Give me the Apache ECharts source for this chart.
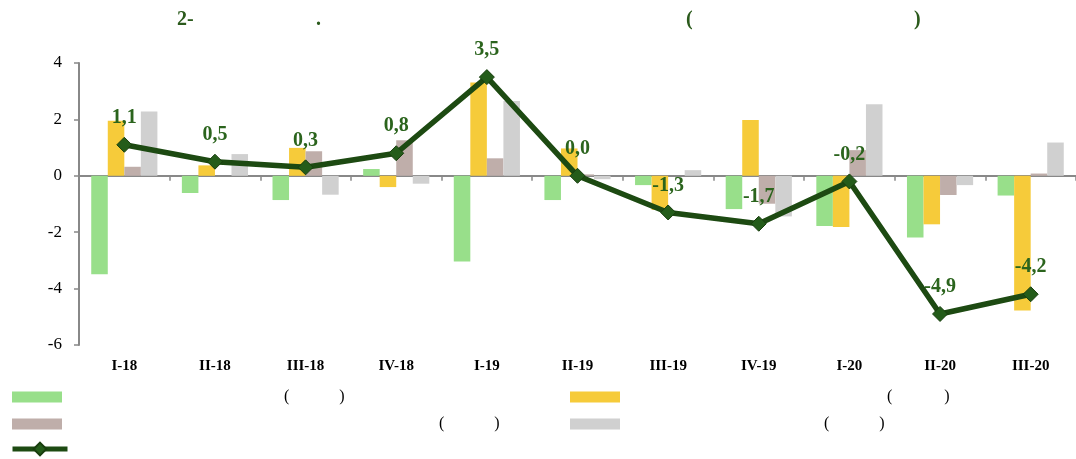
<!DOCTYPE html>
<html><head><meta charset="utf-8">
<script src="https://cdn.jsdelivr.net/npm/echarts@6/dist/echarts.min.js"></script>
<style>html,body{margin:0;padding:0;background:#fff}#c{width:1076px;height:459px}</style>
</head><body><div id="c"></div>
<script>
const categories = ['I-18','II-18','III-18','IV-18','I-19','II-19','III-19','IV-19','I-20','II-20','III-20'];
const seriesGreen  = [-3.49,-0.61,-0.86, 0.24,-3.04,-0.86,-0.33,-1.18,-1.78,-2.19,-0.70];
const seriesYellow = [ 1.95, 0.37, 0.99,-0.40, 3.31, 0.97,-1.21, 1.98,-1.82,-1.72,-4.78];
const seriesBrown  = [ 0.32, 0.00, 0.87, 1.26, 0.62, 0.05, 0.00,-0.99, 0.91,-0.68, 0.08];
const seriesGrey   = [ 2.28, 0.77,-0.67,-0.28, 2.65,-0.12, 0.20,-1.44, 2.54,-0.33, 1.18];
const lineValues   = [ 1.1, 0.5, 0.3, 0.8, 3.5, 0.0,-1.3,-1.7,-0.2,-4.9,-4.2];
const yTicks = [-6,-4,-2,0,2,4];
const names = ['s1','s2','s3','s4','s5'];

const serif = '"Liberation Serif", "DejaVu Serif", serif';
const titleColor = '#2b5a1c';
const colors = ['#98DF8A','#F6CB3A','#BFAEAA','#D0D0D0'];

function legendFmt() {
  return function(){ return '{sp| }{p|(}{sp2| }{p|)}'; };
}
function legendRich(w1, w2) {
  return { sp:{width:w1}, sp2:{width:w2}, p:{fontFamily:serif, fontSize:16, color:'#000'} };
}
const tStyle = {fontFamily:serif,fontWeight:'bold',fontSize:20,color:titleColor};

const chart = echarts.init(document.getElementById('c'));
chart.setOption({
  animation:false,
  textStyle:{fontFamily:serif},
  title:[
    {text:'2-', left:177, top:10, padding:0, textStyle:tStyle},
    {text:'.', left:316, top:10, padding:0, textStyle:tStyle},
    {text:'(', left:686, top:10, padding:0, textStyle:tStyle},
    {text:')', left:914, top:10, padding:0, textStyle:tStyle}
  ],
  legend:[
    {data:[names[0]], left:12, top:389, padding:0, icon:'rect', itemWidth:50, itemHeight:11, itemGap:5, formatter:legendFmt(), textStyle:{rich:legendRich(217,50)}},
    {data:[names[1]], left:570, top:389, padding:0, icon:'rect', itemWidth:50, itemHeight:11, itemGap:5, formatter:legendFmt(), textStyle:{rich:legendRich(262,52)}},
    {data:[names[2]], left:12, top:416, padding:0, icon:'rect', itemWidth:50, itemHeight:11, itemGap:5, formatter:legendFmt(), textStyle:{rich:legendRich(372,50)}},
    {data:[names[3]], left:570, top:416, padding:0, icon:'rect', itemWidth:50, itemHeight:11, itemGap:5, formatter:legendFmt(), textStyle:{rich:legendRich(199,50)}},
    {data:[names[4]], left:10, top:441, padding:0, itemWidth:55, itemHeight:16, itemGap:5, formatter:function(){return '';},
     lineStyle:{width:5, color:'#1d4a12'}, itemStyle:{color:'#245c1a'}}
  ],
  grid:{left:79, right:0, top:63, bottom:114},
  xAxis:[
    {type:'category', data:categories, position:'bottom',
     axisLine:{onZero:true, lineStyle:{color:'#888', width:2}},
     axisTick:{show:true, length:5, inside:false, lineStyle:{color:'#888', width:1.5}},
     axisLabel:{show:false}},
    {type:'category', data:categories, position:'bottom',
     axisLine:{show:false, onZero:false}, axisTick:{show:false},
     axisLabel:{margin:14, fontFamily:serif, fontWeight:'bold', fontSize:15, color:'#000'}}
  ],
  yAxis:{type:'value', min:-6, max:4, interval:2,
    axisLine:{show:true, lineStyle:{color:'#888', width:2}},
    axisTick:{show:true, length:5, lineStyle:{color:'#888', width:1.5}},
    splitLine:{show:false},
    axisLabel:{margin:17, fontFamily:serif, fontSize:17, color:'#000',
      formatter:function(v){ return yTicks.indexOf(v)>=0 ? String(v) : ''; }}
  },
  series:[
    {name:names[0], type:'bar', data:seriesGreen, itemStyle:{color:colors[0]}, barGap:'0%', barCategoryGap:'27%'},
    {name:names[1], type:'bar', data:seriesYellow, itemStyle:{color:colors[1]}},
    {name:names[2], type:'bar', data:seriesBrown, itemStyle:{color:colors[2]}},
    {name:names[3], type:'bar', data:seriesGrey, itemStyle:{color:colors[3]}},
    {name:names[4], type:'line', data:lineValues, z:10,
     lineStyle:{color:'#1d4a12', width:5.5},
     symbol:'diamond', symbolSize:15,
     itemStyle:{color:'#245c1a', borderColor:'#183e0e', borderWidth:1},
     label:{show:true, position:'top', distance:9, fontFamily:serif, fontWeight:'bold', fontSize:20, color:'#2b641d',
       formatter:function(p){ return p.value.toFixed(1).replace('.',','); }}}
  ]
});
</script></body></html>
